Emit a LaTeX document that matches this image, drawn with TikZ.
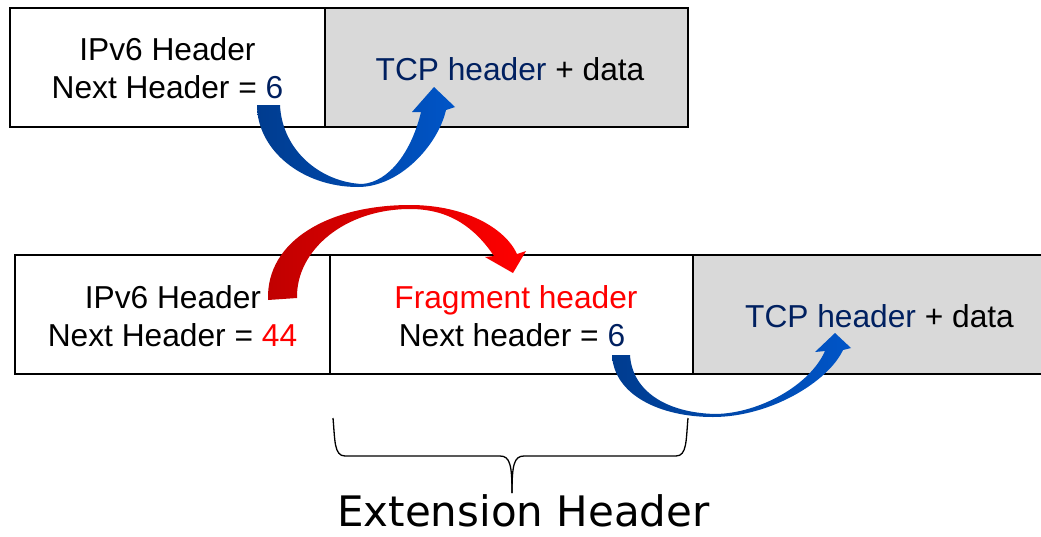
\documentclass[tikz,border=0pt]{standalone}
\usepackage{fontspec}
\setmainfont{Liberation Sans}
\newfontfamily\dejavu{DejaVu Sans}
\definecolor{navy}{HTML}{002060}
\definecolor{hdrred}{HTML}{FF0000}
\definecolor{boxgrey}{HTML}{D9D9D9}
\definecolor{bluedark}{HTML}{003C8F}
\definecolor{bluelight}{HTML}{0055C8}
\definecolor{reddark}{HTML}{C00000}
\definecolor{redlight}{HTML}{FF0000}
\begin{document}
\begin{tikzpicture}[x=1pt,y=-1pt,
  pkt/.style={draw=black,line width=2.5pt,inner sep=0pt,minimum height=119pt},
  txt/.style={anchor=base,inner sep=0pt,font=\fontsize{31.7}{38}\selectfont},
  bluearrow/.style={left color=bluedark,right color=bluelight},
  redarrow/.style={left color=reddark,right color=redlight}]
\useasboundingbox (0,0) rectangle (1041,536);
\begin{scope}
\clip (0,0) rectangle (1041,536);
% top row
\node[pkt,fill=white,minimum width=315pt] (t1) at (167.5,67.5) {};
\node[pkt,fill=boxgrey,minimum width=363pt] (t2) at (506.5,67.5) {};
% bottom row
\node[pkt,fill=white,minimum width=315pt] (b1) at (172.5,314.5) {};
\node[pkt,fill=white,minimum width=363pt] (b2) at (511.5,314.5) {};
\node[pkt,fill=boxgrey,minimum width=376pt] (b3) at (881,314.5) {};
\end{scope}
% texts top
\node[txt] (t1a) at (167.5,60) {IPv6 Header};
\node[txt] (t1b) at (167.5,98) {Next Header = \textcolor{navy}{6}};
\node[txt] (t2a) at (510,80) {\textcolor{navy}{TCP header} + data};
% texts bottom
\node[txt] (b1a) at (173,308) {IPv6 Header};
\node[txt] (b1b) at (172.5,346) {Next Header = \textcolor{hdrred}{44}};
\node[txt] (b2a) at (516,308) {\textcolor{hdrred}{Fragment header}};
\node[txt] (b2b) at (512,346) {Next header = \textcolor{navy}{6}};
\node[txt] (b3a) at (879.5,327) {\textcolor{navy}{TCP header} + data};
% top blue arrow
\path[bluearrow] (257,105) .. controls (257,150) and (302,187) .. (358,187)
  .. controls (400,187) and (438,145) .. (446,110)
  -- (455,107) -- (434,87) -- (412,112) -- (421,112)
  .. controls (412,150) and (390,182) .. (362,184)
  .. controls (320,182) and (282,150) .. (280,105) -- cycle;
% red arrow
\path[redarrow] (268,300) .. controls (266,240) and (330,205) .. (410,205)
  .. controls (465,205) and (505,228) .. (517,254)
  -- (526,251) -- (513,273) -- (485,257) -- (494,256)
  .. controls (475,228) and (450,209) .. (410,209)
  .. controls (345,209) and (296,250) .. (297,298) -- cycle;
% bottom blue arrow
\path[bluearrow] (612,355) .. controls (614,395) and (660,417) .. (713,417)
  .. controls (770,417) and (828,382) .. (843,350)
  -- (851,348) -- (835,333) -- (815,352) -- (825,351)
  .. controls (810,385) and (760,413) .. (716,414)
  .. controls (665,413) and (632,390) .. (630,355) -- cycle;
% brace
\draw[line width=1.3pt] (333,418) .. controls (335,440) and (334,456) .. (345,456)
  -- (500,456) .. controls (510,456) and (512,465) .. (512,493);
\draw[line width=1.3pt] (688,418) .. controls (686,440) and (687,456) .. (676,456)
  -- (524,456) .. controls (514,456) and (512,465) .. (512,493);
\node[anchor=base,inner sep=0pt,text depth=0pt,font=\dejavu\fontsize{42}{48}\selectfont] (ext) at (523.5,526) {Extension Header};
\end{tikzpicture}
\end{document}
